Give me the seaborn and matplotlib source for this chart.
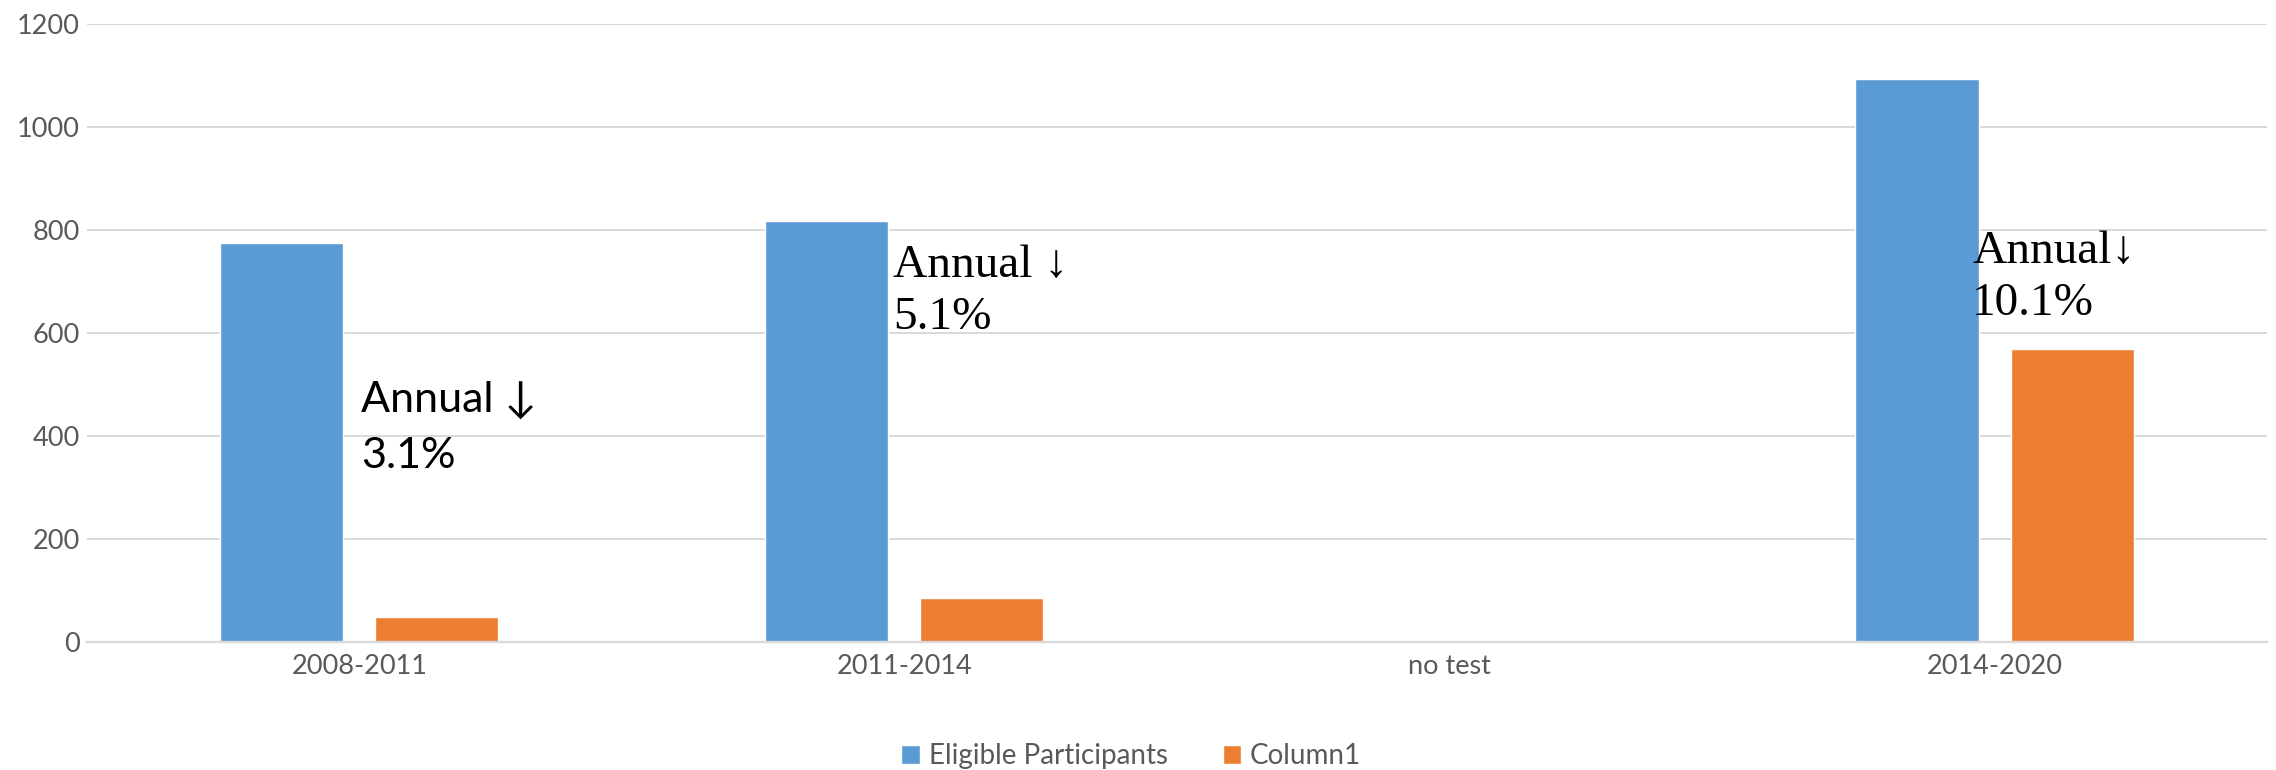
import numpy as np
import pandas as pd
import matplotlib
matplotlib.use("Agg")
import matplotlib.pyplot as plt
import seaborn as sns

# Survey periods and the two series drawn for each of them
periods = ["2008-2011", "2011-2014", "no test", "2014-2020"]
eligible_participants = [775, 817, np.nan, 1093]
column1 = [48, 85, np.nan, 569]
series_names = ["Eligible Participants", "Column1"]

# Annual-change notes: (x in category units, first baseline, second baseline, lines, font)
note_x = [0.003, 0.979, 2.959]
note_y1 = [446, 708, 736]
note_y2 = [337, 607, 634]
note_lines = [("Annual \u2193", "3.1%"), ("Annual \u2193", "5.1%"), ("Annual\u2193", "10.1%")]
note_fonts = ["sans", "serif", "serif"]

y_ticks = [0, 200, 400, 600, 800, 1000, 1200]

df = pd.DataFrame({
    "period": periods * 2,
    "value": eligible_participants + column1,
    "series": [series_names[0]] * len(periods) + [series_names[1]] * len(periods),
})

sns.set_theme(style="white")
plt.rcParams["font.family"] = ["Lato", "DejaVu Sans"]

TEXT_GREY = "#595959"
GRID_GREY = "#D9D9D9"
palette = {"Eligible Participants": "#5B9BD5", "Column1": "#ED7D31"}

fig = plt.figure(figsize=(22.76, 7.70), dpi=100)
ax = fig.add_axes([0.0381, 0.1666, 0.958, 0.8026])

sns.barplot(
    data=df, x="period", y="value", hue="series",
    order=periods, hue_order=series_names, palette=palette,
    width=0.569, gap=0.206, saturation=1, errorbar=None, ax=ax,
)

ax.set_xlim(-0.5, len(periods) - 0.5)
ax.set_ylim(0, 1200)
ax.set_yticks(y_ticks)
ax.set_xlabel("")
ax.set_ylabel("")
ax.set_axisbelow(True)
ax.yaxis.grid(True, color=GRID_GREY, linewidth=1.4)
ax.xaxis.grid(False)
for side in ["top", "right", "left"]:
    ax.spines[side].set_visible(False)
ax.spines["bottom"].set_color(GRID_GREY)
ax.spines["bottom"].set_linewidth(1.7)
ax.tick_params(axis="both", length=0, labelsize=19.5, labelcolor=TEXT_GREY)
ax.tick_params(axis="x", pad=9)
ax.tick_params(axis="y", pad=5)

for x, y1, y2, (l1, l2), kind in zip(note_x, note_y1, note_y2, note_lines, note_fonts):
    if kind == "sans":
        fam, size = ["Lato", "DejaVu Sans"], 31
    else:
        fam, size = ["Liberation Serif", "DejaVu Serif"], 34
    for y, line in ((y1, l1), (y2, l2)):
        ax.text(x, y, line, family=fam, fontsize=size, color="black",
                ha="left", va="baseline")

handles, labels = ax.get_legend_handles_labels()
ax.get_legend().remove()
fig.legend(
    handles, labels, loc="center", bbox_to_anchor=(0.497, 0.018), ncol=2,
    frameon=False, fontsize=20, labelcolor=TEXT_GREY,
    handlelength=0.66, handleheight=0.66, handletextpad=0.32, columnspacing=1.98,
)

fig.savefig("out.png", dpi=100, facecolor="white")
